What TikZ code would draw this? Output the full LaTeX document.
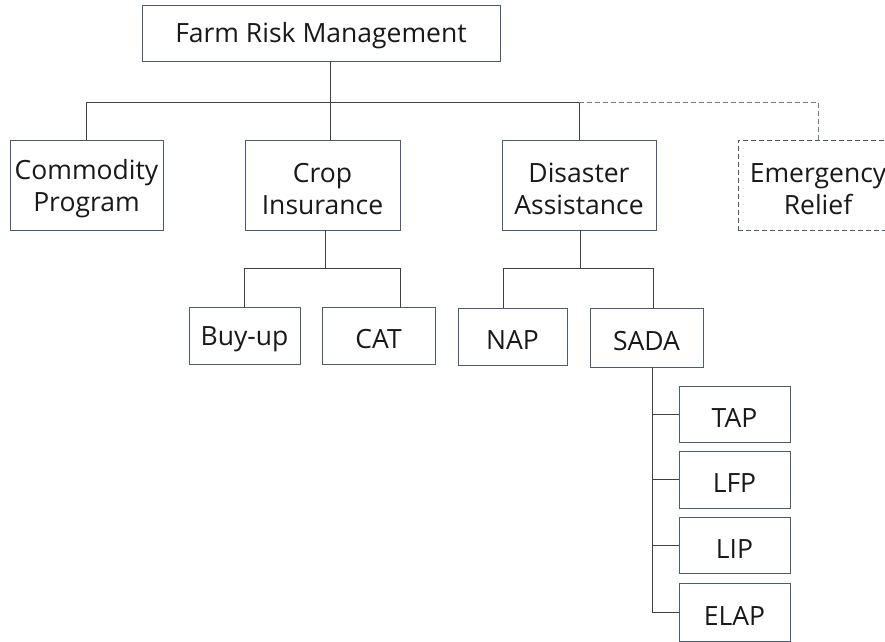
\documentclass[tikz,border=0pt]{standalone}
\usepackage{fontspec}
\setmainfont{Open Sans}
% strut that sets the height of a box's first line of text
\newcommand{\firstline}{\rule{0pt}{27pt}}
\begin{document}
\begin{tikzpicture}[x=1pt,y=-1pt,
  box/.style={draw=boxline, line width=0.9pt, fill=white, inner sep=0pt, align=center,
    font=\fontsize{26.5}{32}\selectfont, text=black!90},
  onebox/.style={box, execute at begin node={\rule{0pt}{26pt}}},
  link/.style={draw=black!75, line width=0.9pt},
  dlink/.style={draw=boxline!80, line width=0.9pt, dash pattern=on 5pt off 3pt}]
\definecolor{boxline}{HTML}{4A5A78}
\useasboundingbox (0,0) rectangle (885,641);
\clip (0,0) rectangle (885,641);

% top level
\node[onebox, minimum width=358, minimum height=56] (frm) at (321,33) {Farm Risk Management};

% second level
\node[box, minimum width=153, minimum height=90] (com) at (86.5,185) {\firstline Commodity\\Program};
\node[box, minimum width=155, minimum height=90] (crop) at (322.5,185) {\firstline Crop\\Insurance};
\node[box, minimum width=154, minimum height=90] (dis) at (579,185) {\firstline Disaster\\Assistance};
\node[box, dash pattern=on 5pt off 3pt, minimum width=160, minimum height=90] (emr) at (818,185) {\firstline Emergency\\Relief};

% crop insurance options
\node[onebox, minimum width=111, minimum height=57] (buy) at (244.5,335.5) {Buy-up};
\node[onebox, minimum width=113, minimum height=57] (cat) at (378.5,335.5) {CAT};

% disaster programs
\node[onebox, minimum width=109, minimum height=57] (nap) at (512.5,336.5) {NAP};
\node[onebox, minimum width=113, minimum height=59] (sada) at (646.5,337.5) {SADA};

% SADA programs
\node[onebox, minimum width=111, minimum height=56] (tap) at (734.5,414) {TAP};
\node[onebox, minimum width=111, minimum height=57] (lfp) at (734.5,479.5) {LFP};
\node[onebox, minimum width=111, minimum height=56] (lip) at (734.5,545) {LIP};
\node[onebox, minimum width=111, minimum height=58] (elap) at (734.5,612) {ELAP};

% connectors: top level bus
\coordinate (bus1) at (330,102);
\draw[link] (frm.south -| bus1) -- (crop.north -| bus1);
\draw[link] (com.north) -- (com.north |- bus1) -- (dis.north |- bus1) -- (dis.north);
\draw[dlink] (dis.north |- bus1) -- (emr.north |- bus1) -- (emr.north);

% crop insurance bus
\coordinate (bus2) at (325,268);
\coordinate (catin) at (400,268);
\draw[link] (crop.south -| bus2) -- (bus2);
\draw[link] (buy.north) -- (buy.north |- bus2) -- (catin) -- (cat.north -| catin);

% disaster bus
\coordinate (bus3) at (580,268);
\coordinate (napin) at (503,268);
\coordinate (sadain) at (653,268);
\draw[link] (dis.south -| bus3) -- (bus3);
\draw[link] (nap.north -| napin) -- (napin) -- (sadain) -- (sada.north -| sadain);

% SADA spine
\coordinate (sp) at (652,0);
\draw[link] (sada.south -| sp) -- (elap.west -| sp);
\foreach \n in {tap,lfp,lip,elap}
  \draw[link] (\n.west -| sp) -- (\n.west);
\end{tikzpicture}
\end{document}
